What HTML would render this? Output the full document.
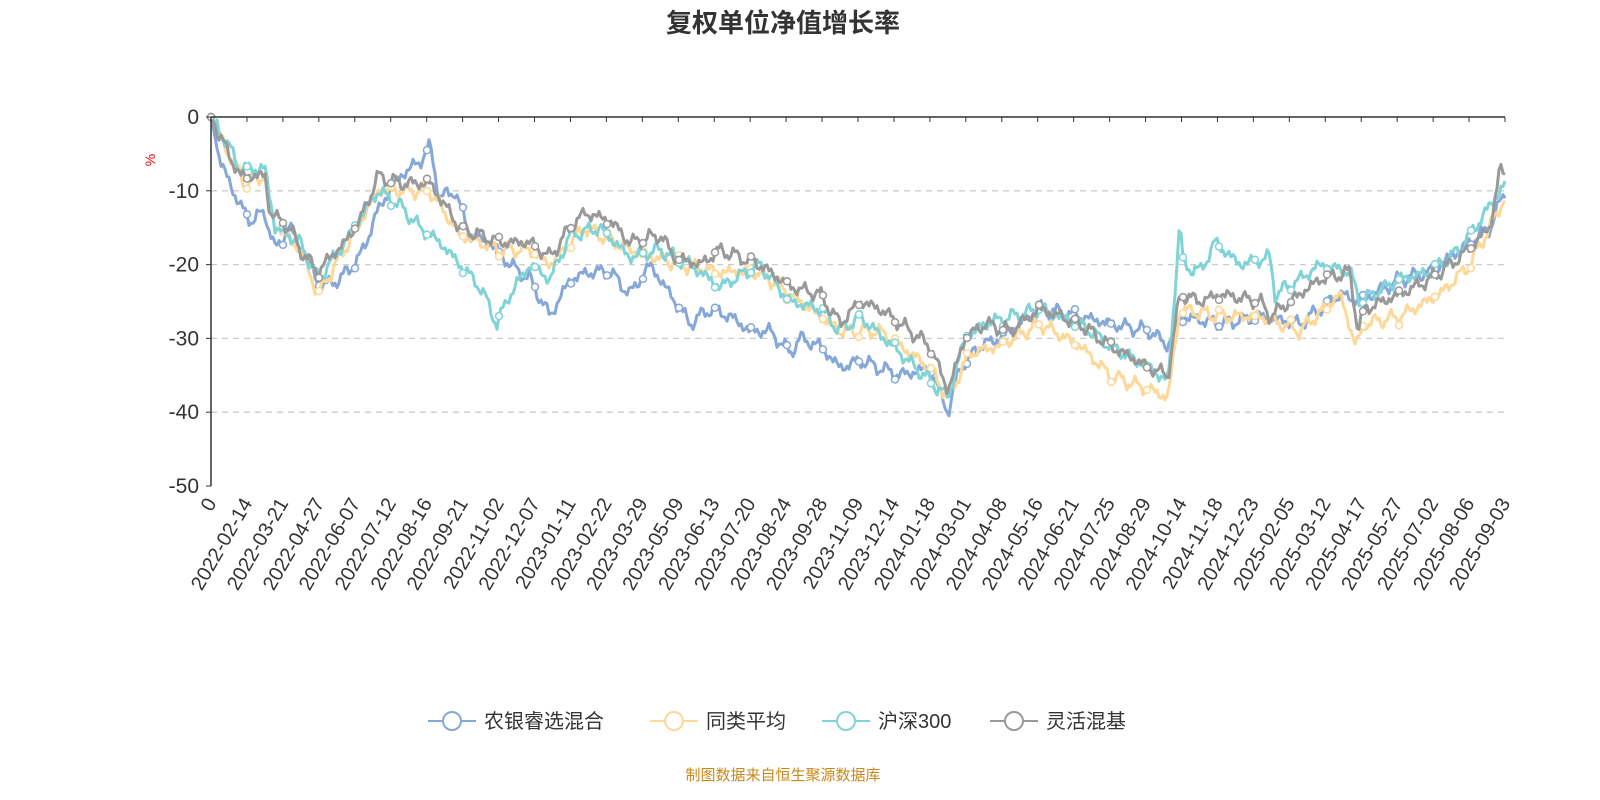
<!DOCTYPE html>
<html><head><meta charset="utf-8"><style>
html,body{margin:0;padding:0;background:#fff;}
svg{display:block;font-family:"Liberation Sans","Noto Sans CJK SC",sans-serif;}
</style></head><body>
<svg id="c" width="1600" height="800" viewBox="0 0 1600 800" xmlns="http://www.w3.org/2000/svg">
<text x="783" y="32" text-anchor="middle" font-size="26" font-weight="bold" fill="#333">复权单位净值增长率</text>
<text x="155" y="160" text-anchor="middle" font-size="14" fill="#e00" transform="rotate(-90 155 160)">%</text>
<g id="grid"></g>
<g id="series"></g>
<g id="axes"></g>
<g id="legend" font-size="20" fill="#333">
</g>
<text x="783" y="780" text-anchor="middle" font-size="15" fill="#c8881a">制图数据来自恒生聚源数据库</text>
</svg>
<script>
const NS="http://www.w3.org/2000/svg";
function el(t,a,p){const e=document.createElementNS(NS,t);for(const k in a)e.setAttribute(k,a[k]);(p||document.getElementById('c')).appendChild(e);return e;}
const X0=211,X1=1505,Y0=117,PY=7.38;
const yv=v=>Y0-v*PY;
const grid=document.getElementById('grid'),axes=document.getElementById('axes'),ser=document.getElementById('series');
for(let v=0;v>=-50;v-=10){
  if(v<0&&v>-50) el('line',{x1:X0,x2:X1,y1:yv(v),y2:yv(v),stroke:'#ccc','stroke-dasharray':'6,5','stroke-width':1.3},grid);
  el('line',{x1:X0-5,x2:X0,y1:yv(v),y2:yv(v),stroke:'#333'},axes);
  const t=el('text',{x:X0-12,y:yv(v)+7,'text-anchor':'end','font-size':21,fill:'#333'},axes);t.textContent=v;
}
el('line',{x1:X0,x2:X0,y1:Y0,y2:yv(-50),stroke:'#333','stroke-width':1.5},axes);
el('line',{x1:X0,x2:X1,y1:Y0,y2:Y0,stroke:'#333','stroke-width':1.5},axes);
const labs=["0","2022-02-14","2022-03-21","2022-04-27","2022-06-07","2022-07-12","2022-08-16","2022-09-21","2022-11-02","2022-12-07","2023-01-11","2023-02-22","2023-03-29","2023-05-09","2023-06-13","2023-07-20","2023-08-24","2023-09-28","2023-11-09","2023-12-14","2024-01-18","2024-03-01","2024-04-08","2024-05-16","2024-06-21","2024-07-25","2024-08-29","2024-10-14","2024-11-18","2024-12-23","2025-02-05","2025-03-12","2025-04-17","2025-05-27","2025-07-02","2025-08-06","2025-09-03"];
const step=(X1-X0)/(labs.length-1);
labs.forEach((l,i)=>{const x=X0+i*step;
  el('line',{x1:x,x2:x,y1:Y0,y2:Y0+5,stroke:'#333'},axes);
  const t=el('text',{x:x+6,y:503,'text-anchor':'end','font-size':20,fill:'#333',transform:`rotate(-60 ${x+6} 503)`},axes);t.textContent=l;});
const S=[
 {c:'#86a8d9',n:'农银睿选混合',k:[[211,0],[220,-6],[240,-12],[250,-14],[265,-13],[275,-18],[290,-15],[310,-20],[320,-23],[340,-22],[360,-19],[380,-12],[400,-8],[420,-6],[430,-4],[440,-11],[455,-10],[470,-16],[490,-17],[510,-20],[530,-22],[550,-27],[570,-22],[590,-21],[610,-21],[630,-24],[650,-20],[670,-24],[690,-28],[710,-26],[730,-27],[750,-29],[770,-29],[790,-32],[800,-30],[820,-31],[840,-34],[860,-33],[900,-35],[930,-34],[948,-40],[960,-34],[980,-31],[1000,-30],[1040,-26],[1080,-27],[1110,-28],[1150,-29],[1168,-31],[1180,-27],[1220,-28],[1260,-27],[1300,-28],[1340,-24],[1360,-25],[1400,-22],[1430,-21],[1460,-18],[1490,-15],[1505,-10]]},
 {c:'#fdd898',n:'同类平均',k:[[211,0],[225,-4],[245,-9],[265,-8],[272,-14],[300,-18],[318,-24],[340,-19],[378,-10],[430,-10],[460,-16],[500,-18],[530,-18],[550,-20],[585,-15],[630,-18],[680,-20],[720,-21],[760,-21],[800,-25],[840,-29],[880,-29],[930,-34],[948,-38],[970,-32],[1000,-31],[1040,-28],[1080,-31],[1110,-35],[1150,-37],[1168,-38],[1180,-26],[1220,-27],[1260,-27],[1300,-29],[1340,-24],[1356,-31],[1365,-28],[1400,-27],[1440,-24],[1470,-20],[1505,-11]]},
 {c:'#80d4d8',n:'沪深300',k:[[211,0],[225,-3],[240,-7],[265,-7],[275,-15],[300,-17],[318,-22],[345,-17],[378,-10],[400,-12],[420,-15],[440,-17],[460,-20],[480,-23],[497,-28],[510,-24],[530,-20],[550,-22],[570,-16],[600,-15],[630,-19],[660,-18],[690,-20],[720,-23],[760,-20],[790,-25],[820,-26],[840,-29],[860,-27],[900,-32],[948,-38],[965,-30],[985,-28],[1040,-26],[1080,-28],[1110,-31],[1150,-34],[1168,-36],[1180,-14],[1183,-20],[1200,-21],[1215,-17],[1240,-20],[1270,-19],[1275,-24],[1300,-22],[1320,-20],[1350,-21],[1360,-25],[1400,-22],[1430,-21],[1460,-18],[1505,-9]]},
 {c:'#999999',n:'灵活混基',k:[[211,0],[225,-4],[240,-8],[265,-8],[270,-13],[290,-15],[300,-18],[318,-21],[330,-19],[345,-17],[360,-14],[378,-8],[400,-9],[430,-9],[445,-12],[460,-15],[480,-16],[500,-17],[530,-17],[550,-19],[570,-15],[585,-13],[610,-14],[630,-17],[660,-16],[675,-19],[700,-20],[720,-18],[760,-20],[790,-23],[820,-24],[840,-28],[860,-25],[880,-26],[900,-28],[930,-31],[948,-37],[965,-30],[985,-28],[1010,-29],[1040,-26],[1080,-28],[1110,-31],[1150,-34],[1168,-35],[1180,-24],[1200,-25],[1220,-24],[1260,-25],[1270,-27],[1290,-25],[1320,-22],[1350,-21],[1358,-29],[1365,-26],[1400,-24],[1430,-22],[1460,-19],[1490,-15],[1500,-7],[1505,-8]]}
];
S.forEach((s,si)=>{
  const pts=[];const k=s.k;
  for(let x=X0;x<=X1;x+=2){
    let j=0;while(j<k.length-2&&k[j+1][0]<x)j++;
    const a=k[j],b=k[j+1];const t=Math.min(1,Math.max(0,(x-a[0])/(b[0]-a[0])));
    let v=a[1]+(b[1]-a[1])*t;
    if(x>X0+4) v+=0.6*Math.sin(x*0.37+si*2)+0.4*Math.sin(x*1.13+si)+0.25*Math.sin(x*2.7+si*3);
    pts.push([x,yv(v)]);
  }
  el('polyline',{points:pts.map(p=>p.join(',')).join(' '),fill:'none',stroke:s.c,'stroke-width':3,'stroke-linejoin':'round'},ser);
  for(let i=0;i<pts.length;i+=18) el('circle',{cx:pts[i][0],cy:pts[i][1],r:3.5,fill:'#fff',stroke:s.c,'stroke-width':1.5},ser);
});
const lg=document.getElementById('legend');
const lx=[428,650,822,990];
S.forEach((s,i)=>{const x=lx[i],y=721;
  el('line',{x1:x,x2:x+48,y1:y,y2:y,stroke:s.c,'stroke-width':2},lg);
  el('circle',{cx:x+24,cy:y,r:9,fill:'#fff',stroke:s.c,'stroke-width':2},lg);
  const t=el('text',{x:x+56,y:y+7},lg);t.textContent=s.n;});
</script>
</body></html>
